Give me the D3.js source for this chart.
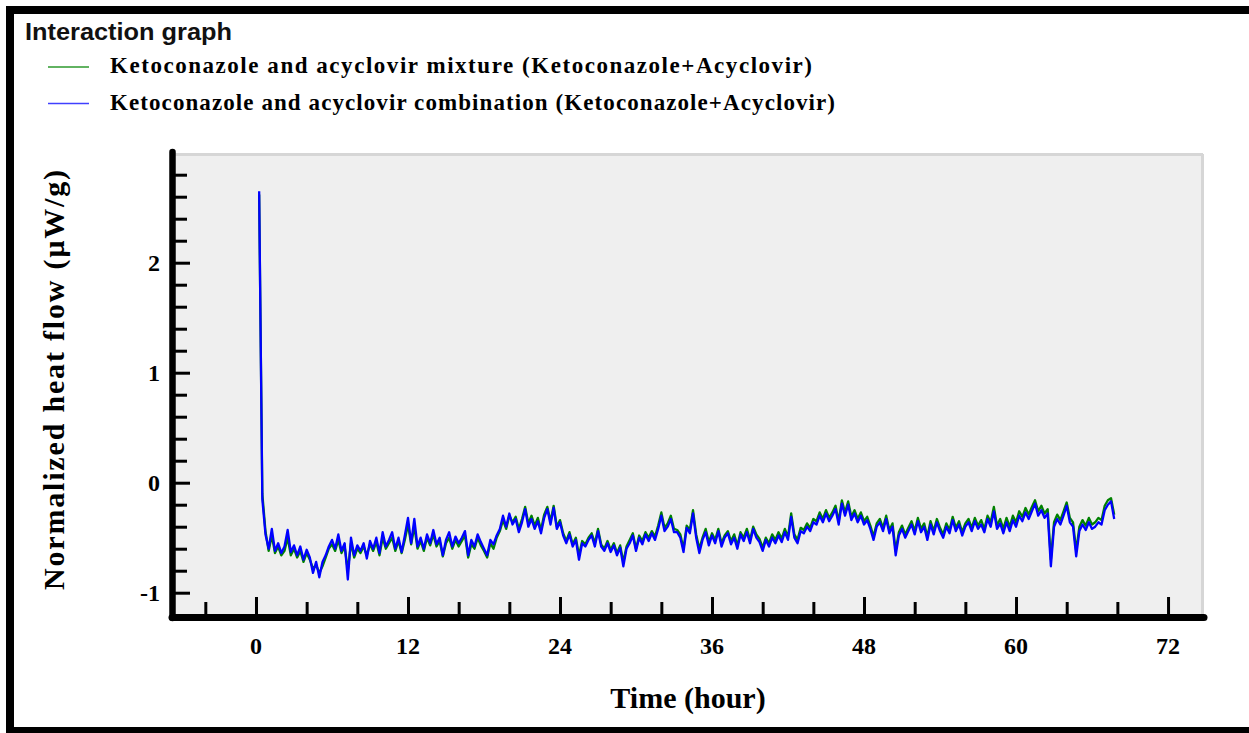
<!DOCTYPE html>
<html><head><meta charset="utf-8">
<script src="https://cdn.jsdelivr.net/npm/d3@7/dist/d3.min.js"></script>
<style>html,body{margin:0;padding:0;background:#fff;}svg{display:block;}</style>
</head><body>
<svg id="chart" width="1249" height="733"></svg>
<script>
const chartTitle = "Interaction graph";
const seriesNames = [
  "Ketoconazole and acyclovir mixture (Ketoconazole+Acyclovir)",
  "Ketoconazole and acyclovir combination (Ketoconazole+Acyclovir)"
];
const xTickLabels = [0, 12, 24, 36, 48, 60, 72];
const yTickLabels = [-1, 0, 1, 2];
const xLabel = "Time (hour)";
const yLabel = "Normalized heat flow (\u03bcW/g)";

// both series: samples every 0.25 h starting at 0.25 h
const sampleStart = 0.25, sampleStep = 0.25;

// combination (blue)
const combination = [
  2.65, -0.15, -0.47, -0.60,
  -0.42, -0.62, -0.55, -0.64,
  -0.58, -0.43, -0.63, -0.57,
  -0.66, -0.58, -0.70, -0.61,
  -0.68, -0.82, -0.72, -0.86,
  -0.72, -0.66, -0.58, -0.52,
  -0.60, -0.47, -0.62, -0.55,
  -0.88, -0.50, -0.66, -0.57,
  -0.62, -0.55, -0.69, -0.53,
  -0.60, -0.50, -0.64, -0.45,
  -0.58, -0.52, -0.45, -0.60,
  -0.50, -0.63, -0.48, -0.32,
  -0.55, -0.33, -0.58, -0.50,
  -0.60, -0.47, -0.55, -0.43,
  -0.56, -0.50, -0.66, -0.52,
  -0.45, -0.58, -0.49, -0.55,
  -0.50, -0.44, -0.66, -0.52,
  -0.58, -0.47, -0.54, -0.60,
  -0.66, -0.52, -0.56, -0.48,
  -0.42, -0.30, -0.40, -0.28,
  -0.38, -0.33, -0.45, -0.36,
  -0.24, -0.40, -0.33, -0.42,
  -0.35, -0.46, -0.32, -0.24,
  -0.38, -0.23, -0.42, -0.36,
  -0.48, -0.55, -0.47, -0.58,
  -0.52, -0.70, -0.55, -0.58,
  -0.52, -0.48, -0.58, -0.44,
  -0.58, -0.62, -0.55, -0.63,
  -0.57, -0.66, -0.59, -0.76,
  -0.60, -0.55, -0.48, -0.62,
  -0.50, -0.56, -0.47, -0.53,
  -0.46, -0.52, -0.42, -0.30,
  -0.44, -0.40, -0.33, -0.45,
  -0.45, -0.50, -0.63, -0.41,
  -0.46, -0.28, -0.50, -0.64,
  -0.52, -0.45, -0.57, -0.48,
  -0.55, -0.44, -0.58, -0.50,
  -0.46, -0.56, -0.50, -0.60,
  -0.47, -0.53, -0.45, -0.55,
  -0.42, -0.50, -0.54, -0.62,
  -0.52, -0.58, -0.50, -0.55,
  -0.48, -0.54, -0.45, -0.52,
  -0.31, -0.50, -0.55, -0.44,
  -0.46, -0.40, -0.44, -0.36,
  -0.38, -0.30, -0.36, -0.28,
  -0.35, -0.30, -0.24, -0.38,
  -0.19, -0.30, -0.20, -0.34,
  -0.28, -0.36, -0.30, -0.38,
  -0.34, -0.42, -0.52, -0.40,
  -0.36, -0.44, -0.33, -0.46,
  -0.40, -0.66, -0.48, -0.42,
  -0.50, -0.44, -0.38, -0.47,
  -0.35, -0.45, -0.40, -0.52,
  -0.38, -0.47, -0.36, -0.44,
  -0.50, -0.40, -0.46, -0.34,
  -0.44, -0.38, -0.48, -0.40,
  -0.36, -0.44, -0.35, -0.42,
  -0.38, -0.45, -0.33, -0.40,
  -0.26, -0.42, -0.37, -0.46,
  -0.36, -0.44, -0.34, -0.40,
  -0.30, -0.35, -0.27, -0.33,
  -0.26, -0.19, -0.30, -0.25,
  -0.32, -0.28, -0.76, -0.40,
  -0.33, -0.38, -0.30, -0.21,
  -0.36, -0.40, -0.67, -0.44,
  -0.38, -0.43, -0.36, -0.42,
  -0.40, -0.36, -0.38, -0.25,
  -0.20, -0.17, -0.33
];

// mixture (green)
const mixture = [
  2.62, -0.10, -0.44, -0.62,
  -0.48, -0.64, -0.58, -0.66,
  -0.62, -0.50, -0.66, -0.60,
  -0.68, -0.62, -0.72, -0.64,
  -0.70, -0.78, -0.75, -0.82,
  -0.76, -0.68, -0.60, -0.56,
  -0.62, -0.52, -0.64, -0.58,
  -0.80, -0.55, -0.68, -0.60,
  -0.64, -0.58, -0.66, -0.56,
  -0.62, -0.54, -0.66, -0.50,
  -0.60, -0.55, -0.50, -0.62,
  -0.53, -0.64, -0.52, -0.38,
  -0.56, -0.40, -0.60, -0.53,
  -0.62, -0.50, -0.57, -0.47,
  -0.58, -0.53, -0.67, -0.55,
  -0.50, -0.60, -0.52, -0.58,
  -0.53, -0.48, -0.68, -0.56,
  -0.60, -0.50, -0.57, -0.62,
  -0.68, -0.55, -0.60, -0.50,
  -0.44, -0.34, -0.42, -0.30,
  -0.36, -0.31, -0.42, -0.33,
  -0.22, -0.37, -0.30, -0.39,
  -0.32, -0.43, -0.29, -0.22,
  -0.35, -0.21, -0.40, -0.34,
  -0.46, -0.53, -0.45, -0.56,
  -0.50, -0.66, -0.53, -0.56,
  -0.50, -0.46, -0.55, -0.42,
  -0.56, -0.60, -0.53, -0.61,
  -0.55, -0.64, -0.57, -0.72,
  -0.58, -0.52, -0.46, -0.60,
  -0.48, -0.53, -0.45, -0.50,
  -0.44, -0.49, -0.39, -0.27,
  -0.41, -0.37, -0.30, -0.42,
  -0.43, -0.47, -0.60, -0.39,
  -0.43, -0.25, -0.47, -0.60,
  -0.50, -0.42, -0.54, -0.46,
  -0.52, -0.42, -0.55, -0.48,
  -0.44, -0.53, -0.47, -0.57,
  -0.45, -0.50, -0.42, -0.52,
  -0.40, -0.47, -0.51, -0.59,
  -0.50, -0.55, -0.47, -0.52,
  -0.45, -0.51, -0.42, -0.49,
  -0.28, -0.47, -0.52, -0.41,
  -0.43, -0.37, -0.41, -0.33,
  -0.35, -0.27, -0.33, -0.25,
  -0.32, -0.27, -0.21, -0.35,
  -0.16, -0.27, -0.17, -0.31,
  -0.25, -0.33, -0.27, -0.35,
  -0.31, -0.39, -0.49, -0.37,
  -0.33, -0.41, -0.30, -0.43,
  -0.37, -0.62, -0.45, -0.39,
  -0.47, -0.41, -0.35, -0.44,
  -0.32, -0.42, -0.37, -0.49,
  -0.35, -0.44, -0.33, -0.41,
  -0.47, -0.37, -0.43, -0.31,
  -0.41, -0.35, -0.45, -0.37,
  -0.33, -0.41, -0.32, -0.39,
  -0.34, -0.42, -0.30, -0.36,
  -0.22, -0.39, -0.33, -0.42,
  -0.32, -0.40, -0.30, -0.36,
  -0.26, -0.31, -0.23, -0.29,
  -0.22, -0.16, -0.26, -0.21,
  -0.28, -0.24, -0.70, -0.36,
  -0.29, -0.34, -0.26, -0.18,
  -0.32, -0.36, -0.62, -0.40,
  -0.34, -0.39, -0.32, -0.38,
  -0.36, -0.32, -0.34, -0.21,
  -0.16, -0.14, -0.29
];

const svg = d3.select("#chart");
const W = 1249, H = 733;
svg.append("rect").attr("width", W).attr("height", H).attr("fill", "#fff");

// outer frame
svg.append("rect").attr("x", 6).attr("y", 6).attr("width", W - 6).attr("height", 8).attr("fill", "#000");
svg.append("rect").attr("x", 6).attr("y", 6).attr("width", 8).attr("height", H - 6).attr("fill", "#000");
svg.append("rect").attr("x", 6).attr("y", 727).attr("width", W - 6).attr("height", 6).attr("fill", "#000");

const serif = "'Liberation Serif','Times New Roman',serif";
const sans = "'Liberation Sans',Arial,sans-serif";

svg.append("text").attr("x", 25).attr("y", 40).attr("font-family", sans)
  .attr("font-size", 24).attr("font-weight", "bold").attr("fill", "#111")
  .attr("textLength", 207).attr("lengthAdjust", "spacingAndGlyphs").text(chartTitle);

const colors = ["#008000", "#0000ff"];
const legendY = [67, 103.5];
const legendLen = [702, 725];
seriesNames.forEach((n, i) => {
  svg.append("line").attr("x1", 48).attr("x2", 89).attr("y1", legendY[i]).attr("y2", legendY[i])
    .attr("stroke", i === 0 ? "#2e9a2e" : "#4040ff").attr("stroke-width", 1.6);
  svg.append("text").attr("x", 110).attr("y", legendY[i] + 6).attr("font-family", serif)
    .attr("font-weight", "bold").attr("font-size", 23).attr("fill", "#000")
    .attr("textLength", legendLen[i]).attr("lengthAdjust", "spacing").text(n);
});

// scales
const x = d3.scaleLinear().domain([-6.63, 74.76]).range([172, 1203]);
const y = d3.scaleLinear().domain([-1.25, 3]).range([620.2, 152.7]);

// plot background
svg.append("rect").attr("x", 175).attr("y", 154).attr("width", 1203 - 175).attr("height", 618 - 154)
  .attr("fill", "#efefef");
svg.append("line").attr("x1", 175).attr("x2", 1203).attr("y1", 154.5).attr("y2", 154.5)
  .attr("stroke", "#d6d6d6").attr("stroke-width", 3);
svg.append("line").attr("x1", 1202.5).attr("x2", 1202.5).attr("y1", 154).attr("y2", 618)
  .attr("stroke", "#d6d6d6").attr("stroke-width", 3);

svg.append("defs").append("clipPath").attr("id", "clip").append("rect")
  .attr("x", 176).attr("y", 154).attr("width", 1203 - 176).attr("height", 618 - 154);

const mixData = mixture.map((v, i) => ({ t: sampleStart + i * sampleStep, v }));
const combData = combination.map((v, i) => ({ t: sampleStart + i * sampleStep, v }));
const line = d3.line().x(d => x(d.t)).y(d => y(d.v));
const plot = svg.append("g").attr("clip-path", "url(#clip)");
plot.append("path").datum(mixData).attr("d", line).attr("fill", "none")
  .attr("stroke", colors[0]).attr("stroke-width", 2.3).attr("stroke-linejoin", "round");
plot.append("path").datum(combData).attr("d", line).attr("fill", "none")
  .attr("stroke", colors[1]).attr("stroke-width", 2.3).attr("stroke-linejoin", "round");

// Y axis
const yMinor = d3.range(-1.0, 2.81, 0.2).map(v => Math.round(v * 10) / 10).filter(v => !yTickLabels.includes(v));
const yAxisMajor = d3.axisRight(y).tickValues(yTickLabels).tickSize(15).tickFormat("");
const yAxisMinor = d3.axisRight(y).tickValues(yMinor).tickSize(12).tickFormat("");
[yAxisMajor, yAxisMinor].forEach(ax => {
  const g = svg.append("g").attr("transform", "translate(175,0)").call(ax);
  g.select(".domain").remove();
  g.selectAll(".tick line").attr("stroke", "#000").attr("stroke-width", 3);
});
svg.append("g").selectAll("text").data(yTickLabels).join("text")
  .attr("x", 160).attr("y", d => y(d)).attr("dy", "0.35em").attr("text-anchor", "end")
  .attr("font-family", serif).attr("font-weight", "bold").attr("font-size", 24)
  .text(d => d);
svg.append("line").attr("x1", 172.5).attr("x2", 172.5).attr("y1", 152).attr("y2", 618)
  .attr("stroke", "#000").attr("stroke-width", 6.5).attr("stroke-linecap", "round");

// X axis
const xMinor = d3.range(-4, 73, 4).filter(v => !xTickLabels.includes(v));
const xAxisMajor = d3.axisTop(x).tickValues(xTickLabels).tickSize(17).tickFormat("");
const xAxisMinor = d3.axisTop(x).tickValues(xMinor).tickSize(12).tickFormat("");
[xAxisMajor, xAxisMinor].forEach(ax => {
  const g = svg.append("g").attr("transform", "translate(0,614)").call(ax);
  g.select(".domain").remove();
  g.selectAll(".tick line").attr("stroke", "#000").attr("stroke-width", 3);
});
svg.append("g").selectAll("text").data(xTickLabels).join("text")
  .attr("x", d => x(d)).attr("y", 654).attr("text-anchor", "middle")
  .attr("font-family", serif).attr("font-weight", "bold").attr("font-size", 24)
  .text(d => d);
svg.append("line").attr("x1", 172).attr("x2", 1204).attr("y1", 617.5).attr("y2", 617.5)
  .attr("stroke", "#000").attr("stroke-width", 7).attr("stroke-linecap", "round");

// axis titles
svg.append("text").attr("x", 688).attr("y", 708).attr("text-anchor", "middle")
  .attr("font-family", serif).attr("font-weight", "bold").attr("font-size", 30).text(xLabel);
svg.append("text").attr("transform", "translate(64,380) rotate(-90)").attr("text-anchor", "middle")
  .attr("font-family", serif).attr("font-weight", "bold").attr("font-size", 30)
  .attr("textLength", 420).attr("lengthAdjust", "spacing").text(yLabel);
</script>
</body></html>
